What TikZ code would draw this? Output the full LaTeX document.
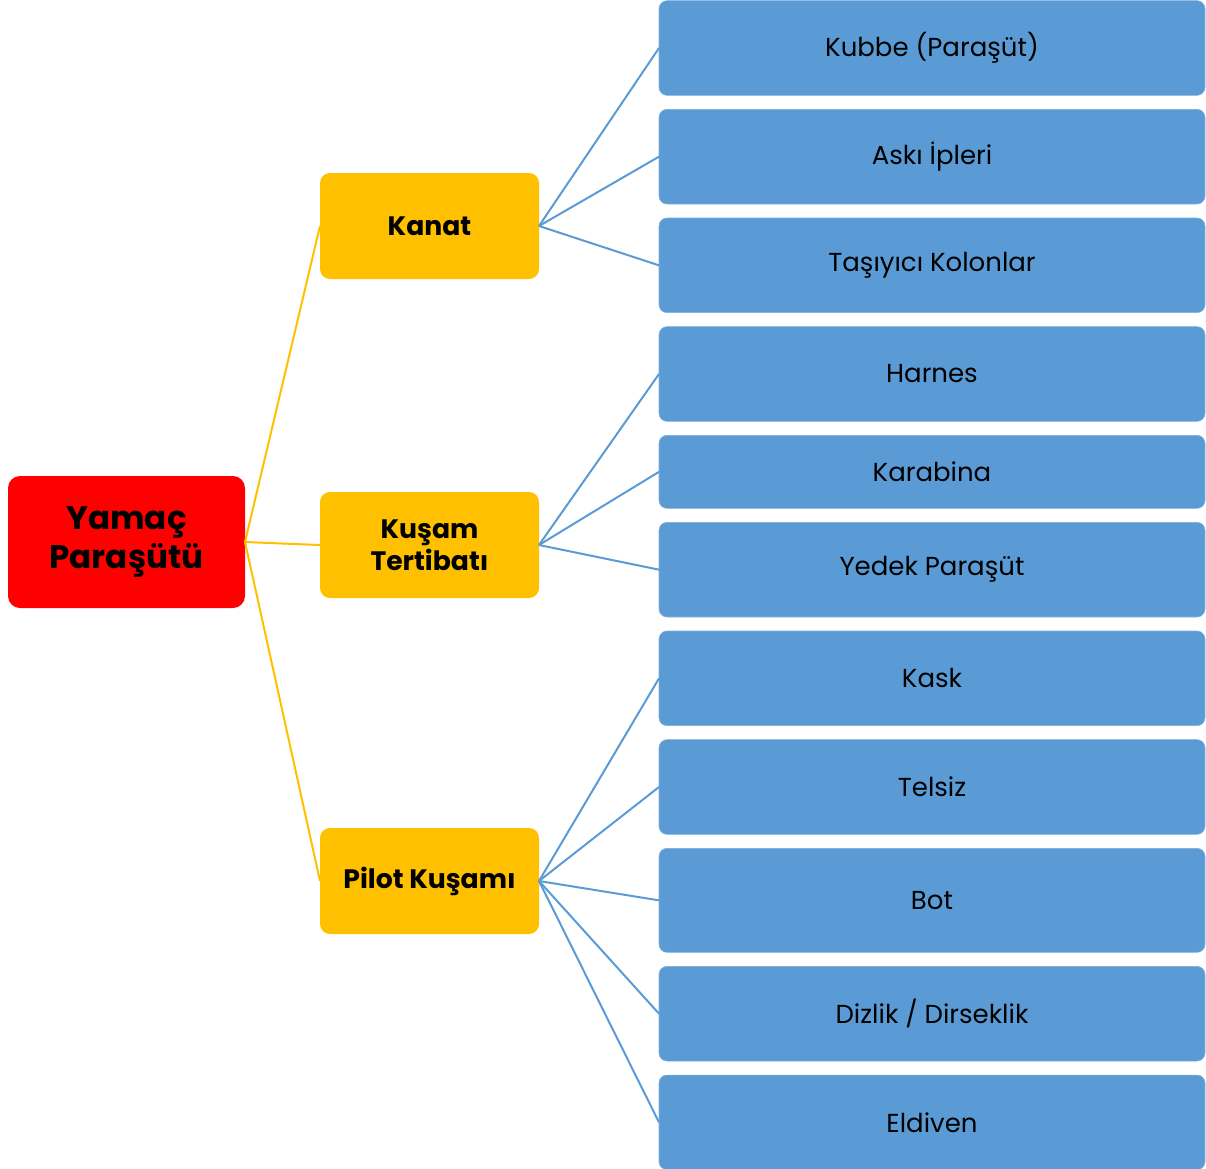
\documentclass[tikz,border=0pt]{standalone}
\usepackage{fontspec}
\setmainfont{Poppins}
\usetikzlibrary{positioning}
\definecolor{rootred}{RGB}{255,0,0}
\definecolor{branchgold}{RGB}{255,192,0}
\definecolor{leafblue}{RGB}{91,155,213}
\definecolor{leafedge}{RGB}{125,175,222}
\tikzstyle{root} = [fill=rootred, rounded corners=9pt, minimum width=177.75pt, minimum height=99pt, inner sep=0pt, outer sep=0pt, align=center, font=\fontsize{24.5}{29}\selectfont\bfseries]
\tikzstyle{branch} = [fill=branchgold, rounded corners=7.5pt, minimum width=164.25pt, minimum height=79.5pt, inner sep=0pt, outer sep=0pt, align=center, font=\fontsize{20}{24}\selectfont\bfseries]
\tikzstyle{leaf} = [fill=leafblue, draw=leafedge, line width=0.4pt, rounded corners=6pt, minimum width=409.5pt, minimum height=71pt, inner sep=0pt, outer sep=0pt, font=\fontsize{19.5}{22}\selectfont]
\tikzstyle{goldline} = [draw=branchgold, line width=1.5pt]
\tikzstyle{blueline} = [draw=leafblue, line width=1.5pt]

\begin{document}
\begin{tikzpicture}[x=0.75pt, y=-0.75pt, node distance=10.5pt]
        \useasboundingbox (0,0) rectangle (1206,1168);
        % root and branches
        \node[root] (yamac) at (126.5,542) {Yamaç\\Paraşütü};
        \node[branch] (kanat) at (429.5,226) {Kanat};
        \node[branch] (kusam) at (429.5,545) {Kuşam\\Tertibatı};
        \node[branch] (pilot) at (429.5,881) {Pilot Kuşamı};
        % leaves
        \node[leaf] (kubbe) at (932,48) {Kubbe (Paraşüt)};
        \node[leaf, below=of kubbe] (aski) {Askı İpleri};
        \node[leaf, below=of aski] (tasiyici) {Taşıyıcı Kolonlar};
        \node[leaf, below=of tasiyici] (harnes) {Harnes};
        \node[leaf, below=of harnes, minimum height=54.75pt] (karabina) {Karabina};
        \node[leaf, below=of karabina] (yedek) {Yedek Paraşüt};
        \node[leaf, below=of yedek] (kask) {Kask};
        \node[leaf, below=of kask] (telsiz) {Telsiz};
        \node[leaf, below=of telsiz, minimum height=78pt] (bot) {Bot};
        \node[leaf, below=of bot] (dizlik) {Dizlik / Dirseklik};
        \node[leaf, below=of dizlik] (eldiven) {Eldiven};
        % connectors
        \path[goldline] (yamac.east) -- (kanat.west);
        \path[goldline] (yamac.east) -- (kusam.west);
        \path[goldline] (yamac.east) -- (pilot.west);
        \path[blueline] (kanat.east) -- (kubbe.west);
        \path[blueline] (kanat.east) -- (aski.west);
        \path[blueline] (kanat.east) -- (tasiyici.west);
        \path[blueline] (kusam.east) -- (harnes.west);
        \path[blueline] (kusam.east) -- (karabina.west);
        \path[blueline] (kusam.east) -- (yedek.west);
        \path[blueline] (pilot.east) -- (kask.west);
        \path[blueline] (pilot.east) -- (telsiz.west);
        \path[blueline] (pilot.east) -- (bot.west);
        \path[blueline] (pilot.east) -- (dizlik.west);
        \path[blueline] (pilot.east) -- (eldiven.west);
\end{tikzpicture}
\end{document}
